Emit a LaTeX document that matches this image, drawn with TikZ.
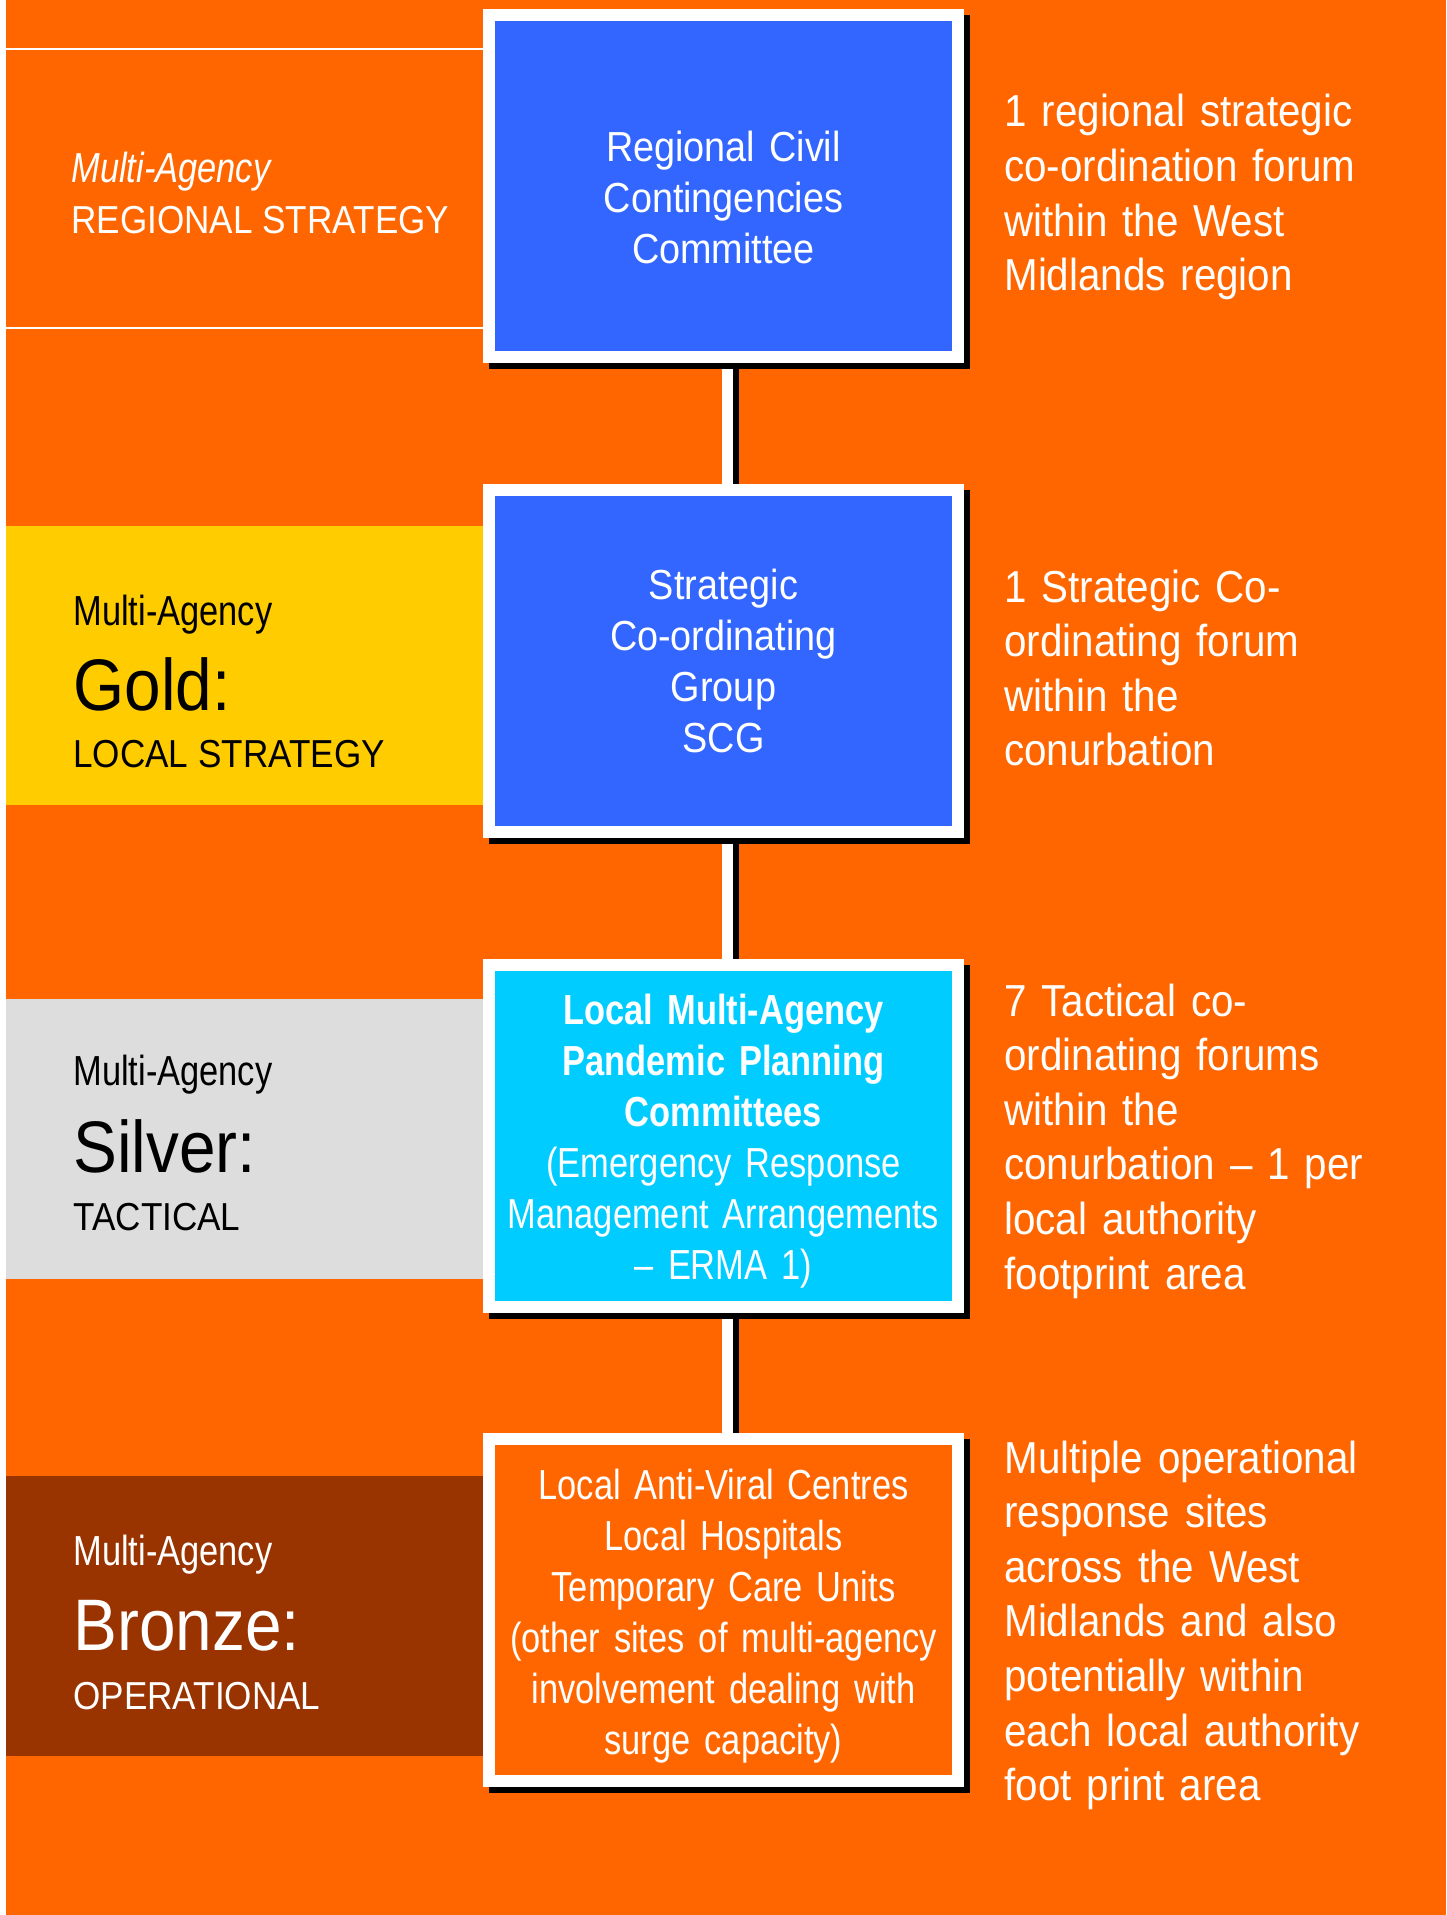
\documentclass[tikz,border=0pt]{standalone}
\usepackage{fontspec}
\setmainfont{Liberation Sans}[FakeStretch=0.9]
\newfontfamily\narrowfont{Liberation Sans}[FakeStretch=0.82]
\usetikzlibrary{shadows}

\definecolor{pageorange}{HTML}{FF6600}
\definecolor{boxblue}{HTML}{3366FF}
\definecolor{boxcyan}{HTML}{00CCFF}
\definecolor{goldband}{HTML}{FFCC00}
\definecolor{silverband}{HTML}{DDDDDD}
\definecolor{bronzeband}{HTML}{993300}

\tikzset{
  tier/.style={draw=white, line width=6pt, minimum width=234.5pt, minimum height=171pt,
    inner sep=0pt, text=white, text width=226pt, align=center,
    font=\fontsize{21}{25.5}\selectfont,
    drop shadow={shadow xshift=3pt, shadow yshift=-3pt, fill=black, draw=black,
      line width=6pt, opacity=1}},
  link/.style={white, line width=5.5pt},
  linkshadow/.style={black, line width=5.5pt},
  agency/.style={anchor=base west, inner sep=0pt, font=\narrowfont\fontsize{21}{25}\selectfont},
  rank/.style={anchor=base west, inner sep=0pt, font=\fontsize{36.5}{44}\selectfont},
  level/.style={anchor=base west, inner sep=0pt, font=\fontsize{19.5}{24}\selectfont},
  remark/.style={anchor=base west, inner sep=0pt, text=white, text width=215pt, align=left,
    font=\fontsize{22.4}{27.3}\selectfont}
}

\begin{document}
\begin{tikzpicture}[x=0.5pt, y=-0.5pt]
    \useasboundingbox (0,0) rectangle (1446,1915);
    \fill[white] (0,0) rectangle (1446,1915);
    \fill[pageorange] (6,0) rectangle (1446,1915);

    % bands on the left
    \draw[white, line width=1pt] (6,49) -- (483,49);
    \draw[white, line width=1pt] (6,328) -- (483,328);
    \fill[goldband] (6,526) rectangle (490,805);
    \fill[silverband] (6,999) rectangle (490,1279);
    \fill[bronzeband] (6,1476) rectangle (490,1756);

    \node[agency, text=white, font=\narrowfont\itshape\fontsize{21}{25}\selectfont] (regagency) at (71,183) {Multi-Agency};
    \node[level, text=white] (reglevel) at (71,234) {REGIONAL STRATEGY};

    \node[agency] (goldagency) at (73,625) {Multi-Agency};
    \node[rank] (goldrank) at (73,710) {Gold:};
    \node[level] (goldlevel) at (73,767) {LOCAL STRATEGY};

    \node[agency] (silveragency) at (73,1085) {Multi-Agency};
    \node[rank] (silverrank) at (73,1172) {Silver:};
    \node[level] (silverlevel) at (73,1230) {TACTICAL};

    \node[agency, text=white] (bronzeagency) at (73,1565) {Multi-Agency};
    \node[rank, text=white] (bronzerank) at (73,1650) {Bronze:};
    \node[level, text=white] (bronzelevel) at (73,1709) {OPERATIONAL};

    % the four boxes
    \node[tier, fill=boxblue, text height=26.5pt] (rccc) at (723.5,186.5)
        {Regional Civil\\Contingencies\\Committee};
    \node[tier, fill=boxblue] (scg) at (723.5,660.5)
        {Strategic\\Co-ordinating\\Group\\SCG};
    \node[tier, fill=boxcyan, text height=20.3pt, font=\narrowfont\fontsize{21}{25.5}\selectfont] (lmappc) at (723.5,1136)
        {\textbf{Local Multi-Agency}\\\textbf{Pandemic Planning}\\\textbf{Committees}\\(Emergency Response\\Management Arrangements\\– ERMA 1)};
    \node[tier, fill=pageorange, text height=21.3pt, font=\narrowfont\fontsize{21}{25.5}\selectfont] (sites) at (723.5,1610)
        {Local Anti-Viral Centres\\Local Hospitals\\Temporary Care Units\\(other sites of multi-agency\\involvement dealing with\\surge capacity)};

    \draw[linkshadow] ([xshift=5pt,yshift=-3pt]rccc.south) -- ([xshift=5pt]scg.north);
    \draw[link] ([xshift=2pt,yshift=-3pt]rccc.south) -- ([xshift=2pt]scg.north);
    \draw[linkshadow] ([xshift=5pt,yshift=-3pt]scg.south) -- ([xshift=5pt]lmappc.north);
    \draw[link] ([xshift=2pt,yshift=-3pt]scg.south) -- ([xshift=2pt]lmappc.north);
    \draw[linkshadow] ([xshift=5pt,yshift=-3pt]lmappc.south) -- ([xshift=5pt]sites.north);
    \draw[link] ([xshift=2pt,yshift=-3pt]lmappc.south) -- ([xshift=2pt]sites.north);

    % notes on the right
    \node[remark] (rcccnote) at (1004,127)
        {1 regional strategic\\co-ordination forum\\within the West\\Midlands region};
    \node[remark] (scgnote) at (1004,602)
        {1 Strategic Co-\\ordinating forum\\within the\\conurbation};
    \node[remark] (lmappcnote) at (1004,1016)
        {7 Tactical co-\\ordinating forums\\within the\\conurbation – 1 per\\local authority\\footprint area};
    \node[remark] (sitesnote) at (1004,1473)
        {Multiple operational\\response sites\\across the West\\Midlands and also\\potentially within\\each local authority\\foot print area};
\end{tikzpicture}
\end{document}
